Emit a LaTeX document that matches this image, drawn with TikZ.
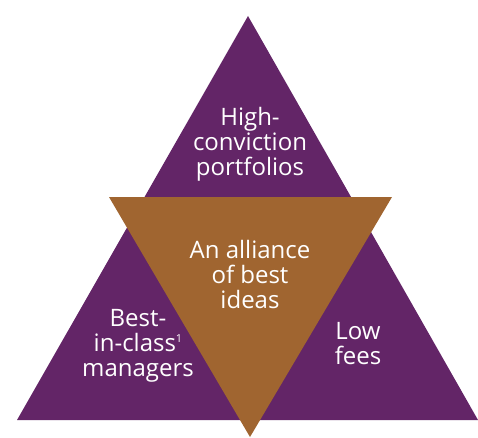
\documentclass[tikz,border=0pt]{standalone}
\usepackage{fontspec}
\setmainfont{Open Sans}
\usepackage{tikz}
\definecolor{plum}{RGB}{99,37,103}
\definecolor{bronze}{RGB}{160,101,48}
\newcommand{\note}[1]{\raisebox{0.75ex}{\fontsize{11}{11}\selectfont #1}}
\tikzset{
  side/.style={ % style for the big purple triangle
    fill=plum, % solid purple, no outline
  },
  core/.style={ % style for the inverted centre triangle
    fill=bronze, % solid brown, no outline
  },
  label/.style={ % style for the texts on the triangles
    text=white, % white letters
    align=center, % lines centred on each other
    inner sep=0pt, % no padding round the text
    font=\fontsize{24}{25}\selectfont, % large, tightly set
  },
}
\begin{document}
\begin{tikzpicture}[x=1pt,y=1pt]
  \useasboundingbox (0,0) rectangle (478,437);
  % the two triangles
  \coordinate (bl) at (17,17);
  \coordinate (br) at (478,17);
  \coordinate (top) at (248,421);
  \coordinate (cl) at (109,240);
  \coordinate (cr) at (392,240);
  \coordinate (cb) at (250,0);
  \fill[side] (bl) -- (br) -- (top) -- cycle;
  \fill[core] (cl) -- (cr) -- (cb) -- cycle;
  % the texts
  \node[label] (conv) at (250,293) {High-\\conviction\\portfolios};
  \node[label] (ideas) at (250,163) {An alliance\\of best\\ideas};
  \node[label] (best) at (138,91) {Best-\\in-class\note{1}\\managers};
  \node[label] (fees) at (358,93) {Low\\fees};
\end{tikzpicture}
\end{document}
